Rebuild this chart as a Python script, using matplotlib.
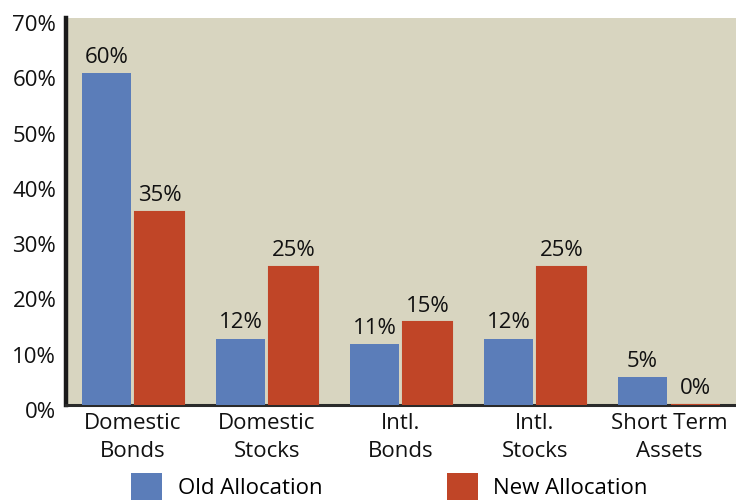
import numpy as np
import matplotlib.pyplot as plt
from matplotlib.patches import Patch
from matplotlib.transforms import ScaledTranslation

categories = ['Domestic\nBonds', 'Domestic\nStocks', 'Intl.\nBonds', 'Intl.\nStocks', 'Short Term\nAssets']
old_alloc = [60, 12, 11, 12, 5]
new_alloc = [35, 25, 15, 25, 0]
y_ticks = [0, 10, 20, 30, 40, 50, 60, 70]

BLUE = '#5b7db9'
RED = '#c04527'
BG = '#d8d5c0'
INK = '#111111'
FS = 16

plt.rcParams['font.family'] = ['Open Sans', 'DejaVu Sans']

fig = plt.figure(figsize=(7.36, 5.0), dpi=100)
ax = fig.add_axes([66 / 736, 95 / 500, 670 / 736, 387 / 500])
ax.set_facecolor(BG)

x = np.arange(len(categories))
width = 0.366
offset = 0.198
old_bars = ax.bar(x - offset, old_alloc, width, color=BLUE, zorder=3)
new_bars = ax.bar(x + offset, new_alloc, width, color=RED, zorder=3,
                  edgecolor=RED, linewidth=1.5)

for bars, vals in ((old_bars, old_alloc), (new_bars, new_alloc)):
    for bar, v in zip(bars, vals):
        ax.annotate(f'{v}%', (bar.get_x() + bar.get_width() / 2, v),
                    xytext=(0, 4), textcoords='offset points',
                    ha='center', va='bottom', fontsize=FS, color=INK)

ax.set_xlim(-0.5, 4.5)
ax.set_ylim(0, 70)
ax.set_yticks(y_ticks)
ax.set_yticklabels([f'{t}%' for t in y_ticks], fontsize=FS, color=INK)
ax.set_xticks(x)
ax.set_xticklabels(categories, fontsize=FS, color=INK, linespacing=1.45)
ax.tick_params(axis='both', length=0)
ax.tick_params(axis='y', pad=7)
ax.tick_params(axis='x', pad=5.5)

# y labels sit a little below their gridline positions
shift = ScaledTranslation(0, -5 / 100, fig.dpi_scale_trans)
for lbl in ax.get_yticklabels():
    lbl.set_transform(lbl.get_transform() + shift)

for side in ('top', 'right'):
    ax.spines[side].set_visible(False)
ax.spines['left'].set_linewidth(3.2)
ax.spines['left'].set_color('#1a1a1a')
ax.spines['bottom'].set_linewidth(2.2)
ax.spines['bottom'].set_color('#2a2a2a')

handles = [Patch(facecolor=BLUE, label='Old Allocation'),
           Patch(facecolor=RED, label='New Allocation')]
fig.legend(handles=handles, loc='upper left', bbox_to_anchor=(131 / 736, 27 / 500),
           ncol=2, frameon=False, fontsize=FS, handlelength=1.4, handleheight=1.55,
           handletextpad=0.7, columnspacing=5.6, borderaxespad=0, borderpad=0)

fig.savefig('out.png', dpi=100, facecolor='white')
